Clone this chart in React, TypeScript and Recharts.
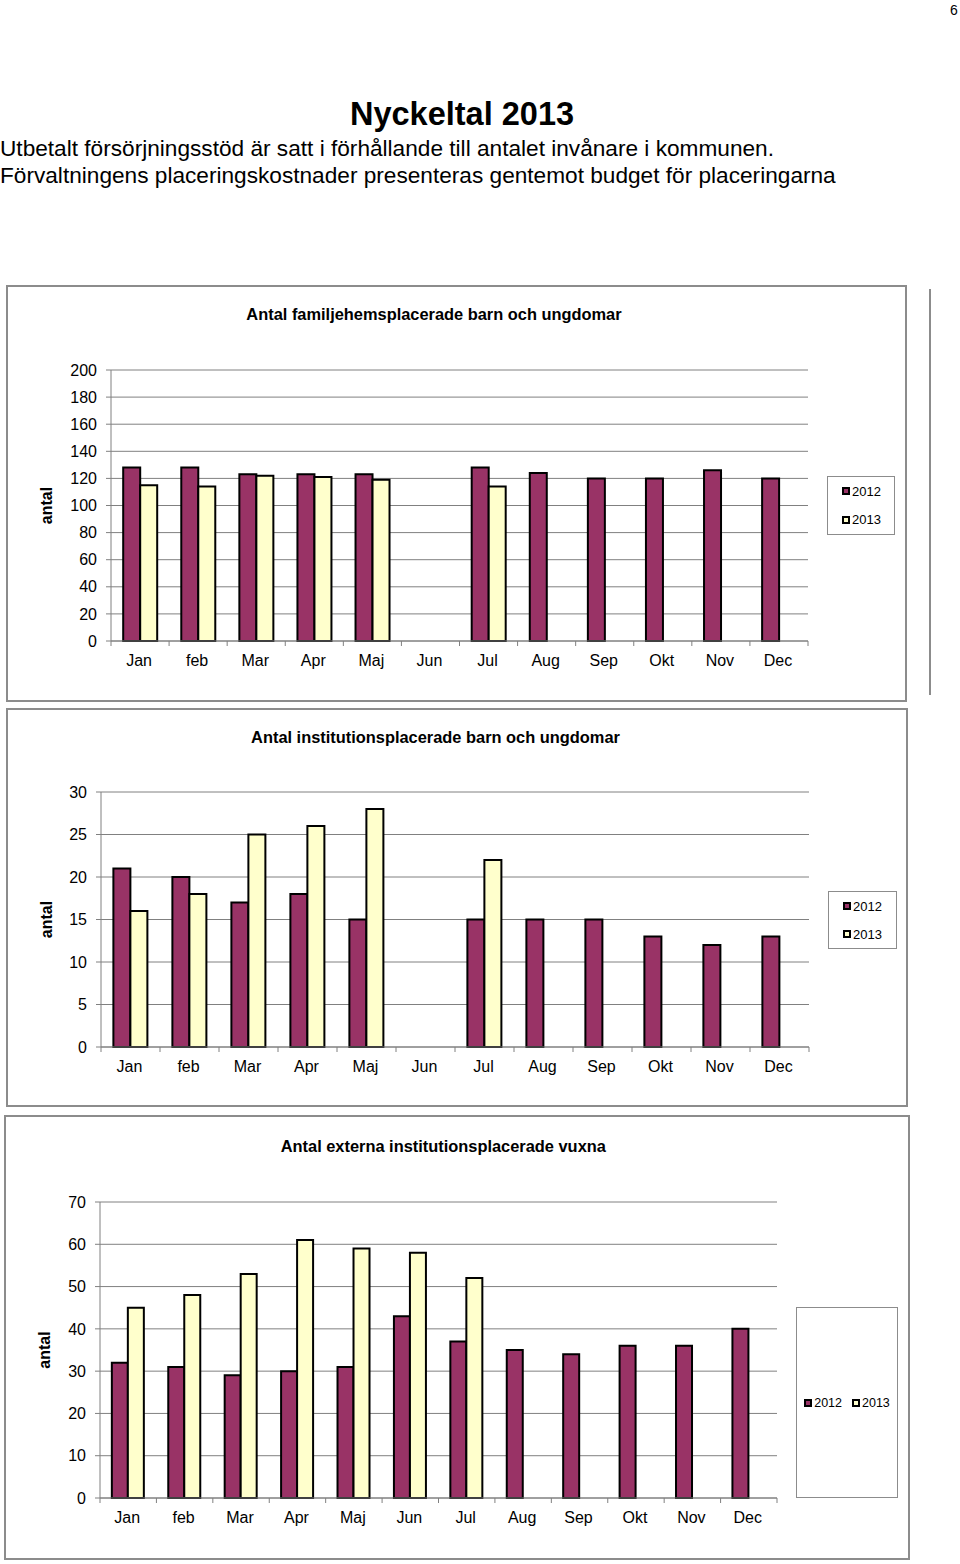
import React from "react";
import { BarChart, Bar, XAxis, YAxis, CartesianGrid, Legend, Label } from "recharts";

const FONT = '"Liberation Sans", Arial, Helvetica, sans-serif';
const GRID = "#808080";
const BOX = "#8c8c8c";
const COLOR_2012 = "#993366";
const COLOR_2013 = "#ffffcc";

const months = ["Jan", "feb", "Mar", "Apr", "Maj", "Jun", "Jul", "Aug", "Sep", "Okt", "Nov", "Dec"];

// Antal familjehemsplacerade barn och ungdomar
const famil2012 = [128, 128, 123, 123, 123, null, 128, 124, 120, 120, 126, 120];
const famil2013 = [115, 114, 122, 121, 119, null, 114, null, null, null, null, null];
const familTicks = [0, 20, 40, 60, 80, 100, 120, 140, 160, 180, 200];

// Antal institutionsplacerade barn och ungdomar
const inst2012 = [21, 20, 17, 18, 15, null, 15, 15, 15, 13, 12, 13];
const inst2013 = [16, 18, 25, 26, 28, null, 22, null, null, null, null, null];
const instTicks = [0, 5, 10, 15, 20, 25, 30];

// Antal externa institutionsplacerade vuxna
const vux2012 = [32, 31, 29, 30, 31, 43, 37, 35, 34, 36, 36, 40];
const vux2013 = [45, 48, 53, 61, 59, 58, 52, null, null, null, null, null];
const vuxTicks = [0, 10, 20, 30, 40, 50, 60, 70];

const TICK_SIZE = 5;
const TICK_MARGIN = 9;
const Y_WIDTH = 60;
const X_HEIGHT = 30;

const buildRows = (a: (number | null)[], b: (number | null)[]) =>
  months.map((m, i) => ({ month: m, y2012: a[i], y2013: b[i] }));

const charts = [
  {
    key: "famil",
    title: "Antal familjehemsplacerade barn och ungdomar",
    titleCenter: 434,
    titleTop: 303.5,
    left: 6,
    top: 285,
    width: 901,
    height: 417,
    margin: { top: 85, right: 99, bottom: 31, left: 45 },
    rows: buildRows(famil2012, famil2013),
    ticks: familTicks,
    frame: false,
    labelX: 45.5,
    legend: { left: 821, top: 191, width: 68, height: 59, row: false, fontSize: 13 },
  },
  {
    key: "inst",
    title: "Antal institutionsplacerade barn och ungdomar",
    titleCenter: 435.5,
    titleTop: 726.8,
    left: 6,
    top: 708,
    width: 902,
    height: 399,
    margin: { top: 84, right: 99, bottom: 30, left: 35 },
    rows: buildRows(inst2012, inst2013),
    ticks: instTicks,
    frame: true,
    labelX: 45.5,
    legend: { left: 822, top: 183, width: 69, height: 58, row: false, fontSize: 13 },
  },
  {
    key: "vux",
    title: "Antal externa institutionsplacerade vuxna",
    titleCenter: 443.3,
    titleTop: 1135.5,
    left: 4,
    top: 1115,
    width: 906,
    height: 445,
    margin: { top: 87, right: 133, bottom: 32, left: 36 },
    rows: buildRows(vux2012, vux2013),
    ticks: vuxTicks,
    frame: true,
    labelX: 46,
    legend: { left: 792, top: 192, width: 102, height: 191, row: true, fontSize: 12.5 },
  },
];

const monthTick = (band: number, count: number) => (props: any) => {
  const { x, y, payload, index } = props;
  const ya = y - TICK_MARGIN - TICK_SIZE;
  const yb = y - TICK_MARGIN;
  return (
    <g>
      <line x1={x - band / 2} x2={x - band / 2} y1={ya} y2={yb} stroke={GRID} />
      {index === count - 1 && (
        <line x1={x + band / 2} x2={x + band / 2} y1={ya} y2={yb} stroke={GRID} />
      )}
      <text x={x - 1} y={y} dy="0.71em" textAnchor="middle" fontSize={16} fill="#000">
        {payload.value}
      </text>
    </g>
  );
};

const legendContent = (row: boolean, fontSize: number) => (props: any) => {
  const items = props.payload || [];
  return (
    <div
      style={{
        width: "100%",
        height: "100%",
        boxSizing: "border-box",
        border: `1px solid ${BOX}`,
        background: "#fff",
        display: "flex",
        flexDirection: row ? "row" : "column",
        justifyContent: "center",
        alignItems: row ? "center" : "flex-start",
        paddingLeft: row ? 10 : 14,
        fontFamily: FONT,
        fontSize,
        color: "#000",
      }}
    >
      {items.map((it: any) => (
        <div
          key={it.value}
          style={{
            display: "flex",
            alignItems: "center",
            height: 29,
            marginRight: row ? 10 : 0,
          }}
        >
          <span
            style={{
              display: "inline-block",
              width: 8,
              height: 8,
              boxSizing: "border-box",
              border: "2px solid #000",
              background: it.color,
              marginRight: 2,
            }}
          />
          <span>{it.value}</span>
        </div>
      ))}
    </div>
  );
};

const yLabel = (labelX: number) => (props: any) => {
  const vb = props.viewBox || {};
  const cy = (vb.y || 0) + (vb.height || 0) / 2;
  return (
    <text
      x={labelX}
      y={cy}
      transform={`rotate(-90 ${labelX} ${cy})`}
      textAnchor="middle"
      fontSize={16}
      fontWeight="bold"
      fill="#000"
    >
      antal
    </text>
  );
};

function PlacementChart({ cfg }: { cfg: (typeof charts)[number] }) {
  const plotW = cfg.width - cfg.margin.left - cfg.margin.right - Y_WIDTH;
  const band = plotW / months.length;
  const max = cfg.ticks[cfg.ticks.length - 1];
  return (
    <>
      <div
        style={{
          position: "absolute",
          left: cfg.left,
          top: cfg.top,
          width: cfg.width,
          height: cfg.height,
          boxSizing: "border-box",
          border: `2px solid ${BOX}`,
        }}
      />
      <div
        style={{
          position: "absolute",
          left: cfg.titleCenter - 300,
          top: cfg.titleTop,
          width: 600,
          textAlign: "center",
          fontSize: 16.4,
          lineHeight: "20px",
          fontWeight: "bold",
        }}
      >
        {cfg.title}
      </div>
      <div style={{ position: "absolute", left: cfg.left, top: cfg.top }}>
        <BarChart
          width={cfg.width}
          height={cfg.height}
          data={cfg.rows}
          margin={cfg.margin}
          barCategoryGap="21%"
          barGap={0}
        >
          <CartesianGrid vertical={false} stroke={GRID} strokeWidth={1} />
          <XAxis
            dataKey="month"
            type="category"
            interval={0}
            height={X_HEIGHT}
            tickSize={TICK_SIZE}
            tickMargin={TICK_MARGIN}
            tickLine={false}
            axisLine={{ stroke: GRID }}
            tick={monthTick(band, months.length)}
          />
          <YAxis
            type="number"
            domain={[0, max]}
            ticks={cfg.ticks}
            interval={0}
            width={Y_WIDTH}
            tickSize={TICK_SIZE}
            tickMargin={TICK_MARGIN}
            tickLine={{ stroke: GRID }}
            axisLine={{ stroke: GRID }}
            tick={{ fontSize: 16, fill: "#000" }}
          >
            <Label content={yLabel(cfg.labelX)} />
          </YAxis>
          {cfg.frame && (
            <YAxis
              yAxisId="frame"
              orientation="right"
              width={0}
              domain={[0, 1]}
              tick={false}
              tickLine={false}
              axisLine={{ stroke: GRID }}
            />
          )}
          <Legend
            layout="horizontal"
            align="center"
            verticalAlign="middle"
            wrapperStyle={{
              left: cfg.legend.left,
              top: cfg.legend.top,
              width: cfg.legend.width,
              height: cfg.legend.height,
            }}
            content={legendContent(cfg.legend.row, cfg.legend.fontSize)}
          />
          <Bar
            dataKey="y2012"
            name="2012"
            fill={COLOR_2012}
            stroke="#000"
            strokeWidth={2}
            isAnimationActive={false}
          />
          <Bar
            dataKey="y2013"
            name="2013"
            fill={COLOR_2013}
            stroke="#000"
            strokeWidth={2}
            isAnimationActive={false}
          />
        </BarChart>
      </div>
    </>
  );
}

export default function App() {
  return (
    <div
      style={{
        position: "absolute",
        left: 0,
        top: 0,
        width: 960,
        height: 1564,
        background: "#fff",
        fontFamily: FONT,
        color: "#000",
      }}
    >
      <div style={{ position: "absolute", left: 950, top: 2, fontSize: 14, lineHeight: "16px" }}>6</div>
      <div
        style={{
          position: "absolute",
          left: 350,
          top: 96,
          fontSize: 32.5,
          lineHeight: "36px",
          fontWeight: "bold",
          whiteSpace: "nowrap",
        }}
      >
        Nyckeltal 2013
      </div>
      <div
        style={{
          position: "absolute",
          left: 0,
          top: 135,
          fontSize: 22.65,
          lineHeight: "26px",
          whiteSpace: "nowrap",
        }}
      >
        Utbetalt försörjningsstöd är satt i förhållande till antalet invånare i kommunen.
      </div>
      <div
        style={{
          position: "absolute",
          left: 0,
          top: 162,
          fontSize: 22.65,
          lineHeight: "26px",
          whiteSpace: "nowrap",
        }}
      >
        Förvaltningens placeringskostnader presenteras gentemot budget för placeringarna
      </div>
      <div
        style={{
          position: "absolute",
          left: 929,
          top: 289,
          width: 2,
          height: 406,
          background: BOX,
        }}
      />
      {charts.map((c) => (
        <PlacementChart key={c.key} cfg={c} />
      ))}
    </div>
  );
}
